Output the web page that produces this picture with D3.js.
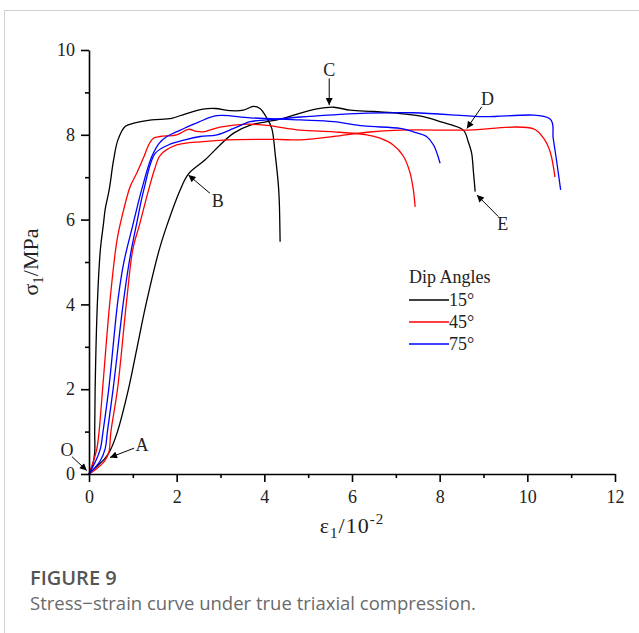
<!DOCTYPE html>
<html>
<head>
<meta charset="utf-8">
<script src="https://cdn.jsdelivr.net/npm/d3@7"></script>
<style>
  body { margin: 0; background: #fff; }
  svg { display: block; }
</style>
</head>
<body>
<div id="chart"></div>
<script>
// Stress-strain curves, [strain (10^-2), stress (MPa)]
const black1 = [[0,0],[0.08,0.2],[0.13,0.5],[0.13,1.0],[0.14,2.0],[0.19,4.0],[0.26,5.3],[0.33,5.9],[0.37,6.25],[0.46,6.7],[0.56,7.4],[0.66,7.88],[0.83,8.2],[1.05,8.28],[1.43,8.35],[1.89,8.39],[2.19,8.49],[2.57,8.6],[2.88,8.62],[3.22,8.57],[3.52,8.58],[3.75,8.67],[3.9,8.62],[4.06,8.39],[4.17,8.15],[4.25,7.52],[4.32,6.82],[4.34,6.46],[4.36,5.48]];
const black2 = [[0,0],[0.2,0.2],[0.35,0.35],[0.48,0.55],[0.65,1.0],[0.9,2.0],[1.1,3.0],[1.3,4.0],[1.6,5.28],[1.78,5.87],[2.08,6.7],[2.27,7.08],[2.65,7.41],[2.99,7.76],[3.3,8.04],[3.68,8.23],[4.06,8.31],[4.44,8.39],[4.82,8.51],[5.2,8.61],[5.58,8.65],[5.96,8.58],[6.49,8.55],[7.02,8.51],[7.63,8.43],[8.01,8.31],[8.54,8.11],[8.65,7.84],[8.73,7.56],[8.77,7.13],[8.81,6.66]];
const red1 = [[0,0],[0.1,0.3],[0.18,0.6],[0.23,1.0],[0.31,2.0],[0.48,4.1],[0.64,5.52],[0.79,6.23],[0.94,6.78],[1.09,7.1],[1.26,7.5],[1.36,7.76],[1.47,7.92],[1.62,7.96],[2.0,8.0],[2.27,8.13],[2.45,8.08],[2.61,8.07],[2.99,8.18],[3.6,8.25],[4.06,8.22],[4.82,8.11],[5.58,8.07],[6.34,8.0],[6.64,7.92],[6.94,7.76],[7.17,7.5],[7.32,7.12],[7.4,6.7],[7.44,6.3]];
const red2 = [[0,0],[0.2,0.15],[0.35,0.3],[0.45,0.5],[0.5,1.0],[0.65,2.0],[0.86,4.1],[1.0,5.3],[1.15,5.87],[1.36,6.7],[1.5,7.2],[1.63,7.52],[2.0,7.76],[2.61,7.84],[3.14,7.88],[4.28,7.89],[4.82,7.88],[5.58,7.96],[6.34,8.06],[7.1,8.11],[8.53,8.11],[10.14,8.14],[10.37,7.92],[10.52,7.6],[10.63,7.0]];
const blue1 = [[0,0],[0.15,0.3],[0.26,0.6],[0.32,1.0],[0.45,2.0],[0.66,4.1],[0.79,4.97],[1.0,5.87],[1.2,6.7],[1.43,7.48],[1.6,7.8],[1.76,7.95],[2.19,8.16],[2.5,8.3],[2.92,8.45],[3.68,8.4],[4.82,8.35],[5.58,8.31],[6.26,8.21],[7.1,8.15],[7.4,8.07],[7.7,7.96],[7.86,7.76],[8.01,7.33]];
const blue2 = [[0,0],[0.25,0.3],[0.37,0.6],[0.42,1.0],[0.55,2.0],[0.79,4.1],[0.95,5.2],[1.08,5.87],[1.25,6.7],[1.51,7.56],[1.81,7.76],[2.19,7.88],[2.54,7.96],[2.92,8.0],[3.3,8.15],[3.68,8.31],[4.06,8.35],[4.82,8.42],[5.58,8.47],[6.34,8.51],[7.4,8.52],[8.92,8.43],[10.52,8.37],[10.59,7.92],[10.67,7.37],[10.76,6.7]];

const legendLabels = ["15°", "45°", "75°"];
const legendColors = ["#000000", "#ff0000", "#0000ff"];
const xTicks = [0, 2, 4, 6, 8, 10, 12];
const yTicks = [0, 2, 4, 6, 8, 10];

// annotation labels: text position, arrow tail, arrow tip (data units)
const notes = [
  { t: "O", lx: -0.5, ly: 0.57, x1: -0.39, y1: 0.41, x2: -0.05, y2: 0.08 },
  { t: "A", lx: 1.21, ly: 0.68, x1: 1.03, y1: 0.61, x2: 0.48, y2: 0.39 },
  { t: "B", lx: 2.94, ly: 6.44, x1: 2.76, y1: 6.62, x2: 2.27, y2: 7.05 },
  { t: "C", lx: 5.48, ly: 9.53, x1: 5.48, y1: 9.33, x2: 5.48, y2: 8.70 },
  { t: "D", lx: 9.09, ly: 8.86, x1: 8.96, y1: 8.66, x2: 8.62, y2: 8.15 },
  { t: "E", lx: 9.44, ly: 5.91, x1: 9.34, y1: 6.07, x2: 8.85, y2: 6.58 }
];

const W = 639, H = 633;
const svg = d3.select("#chart").append("svg").attr("width", W).attr("height", H);

svg.append("rect").attr("width", W).attr("height", H).attr("fill", "#fff");
// card frame
svg.append("path").attr("d", "M4.5,633 V10.5 H639").attr("fill", "none").attr("stroke", "#cfcfcf");

const x = d3.scaleLinear().domain([0, 12]).range([89, 615]);
const y = d3.scaleLinear().domain([0, 10]).range([474, 50]);

const serif = '"Liberation Serif", "Times New Roman", serif';

svg.append("defs").append("marker")
  .attr("id", "arr").attr("viewBox", "0 0 10 10").attr("refX", 10).attr("refY", 5)
  .attr("markerWidth", 9).attr("markerHeight", 7).attr("markerUnits", "userSpaceOnUse")
  .attr("orient", "auto")
  .append("path").attr("d", "M0,0 L10,5 L0,10 z").attr("fill", "#000");

// curves
const line = d3.line().x(d => x(d[0])).y(d => y(d[1])).curve(d3.curveCatmullRom.alpha(0.5));
const series = [
  [black1, legendColors[0]], [black2, legendColors[0]],
  [red1, legendColors[1]], [red2, legendColors[1]],
  [blue1, legendColors[2]], [blue2, legendColors[2]]
];
series.forEach(([data, color]) => {
  svg.append("path").datum(data).attr("d", line)
    .attr("fill", "none").attr("stroke", color).attr("stroke-width", 1.3)
    .attr("stroke-linejoin", "round");
});

// axes
const gx = svg.append("g").attr("transform", `translate(0,${y(0)})`)
  .call(d3.axisBottom(x).tickValues(xTicks).tickSize(8).tickSizeOuter(0).tickPadding(8).tickFormat(d3.format("d")));
svg.append("g").attr("transform", `translate(0,${y(0)})`)
  .call(d3.axisBottom(x).tickValues([1, 3, 5, 7, 9, 11]).tickSize(4).tickSizeOuter(0).tickFormat(""))
  .select(".domain").remove();
const gy = svg.append("g").attr("transform", `translate(${x(0)},0)`)
  .call(d3.axisLeft(y).tickValues(yTicks).tickSize(8).tickSizeOuter(0).tickPadding(6).tickFormat(d3.format("d")));
svg.append("g").attr("transform", `translate(${x(0)},0)`)
  .call(d3.axisLeft(y).tickValues([1, 3, 5, 7, 9]).tickSize(4).tickSizeOuter(0).tickFormat(""))
  .select(".domain").remove();
svg.selectAll(".domain").attr("stroke", "#000").attr("stroke-width", 1.6);
svg.selectAll(".tick line").attr("stroke", "#000").attr("stroke-width", 1.6);
[gx, gy].forEach(g => {
  g.attr("font-family", serif).attr("font-size", 18);
  g.selectAll("text")
    .style("font-family", serif)
    .style("font-size", "18px")
    .style("fill", "#222");
});

// axis titles
const yt = svg.append("text").attr("transform", `translate(38,${(y(0) + y(10)) / 2}) rotate(-90)`)
  .attr("text-anchor", "middle").attr("font-family", serif).attr("font-size", 22).attr("fill", "#222");
yt.append("tspan").text("σ");
yt.append("tspan").attr("font-size", 15).attr("dy", 5).text("1");
yt.append("tspan").attr("dy", -5).text("/MPa");

const xt = svg.append("text").attr("x", (x(0) + x(12)) / 2).attr("y", 533)
  .attr("text-anchor", "middle").attr("font-family", serif).attr("font-size", 22).attr("fill", "#222")
  .attr("letter-spacing", 1);
xt.append("tspan").text("ε");
xt.append("tspan").attr("font-size", 15).attr("dy", 5).text("1");
xt.append("tspan").attr("dy", -5).text("/10");
xt.append("tspan").attr("font-size", 15).attr("dy", -9).text("-2");

// annotations
notes.forEach(n => {
  svg.append("line").attr("x1", x(n.x1)).attr("y1", y(n.y1)).attr("x2", x(n.x2)).attr("y2", y(n.y2))
    .attr("stroke", "#000").attr("stroke-width", 1).attr("marker-end", "url(#arr)");
  svg.append("text").attr("x", x(n.lx)).attr("y", y(n.ly)).attr("dy", "0.35em")
    .attr("text-anchor", "middle").attr("font-family", serif).attr("font-size", 18).attr("fill", "#222")
    .text(n.t);
});

// legend
const lg = svg.append("g").attr("transform", "translate(409,283)");
lg.append("text").attr("x", 0).attr("y", 0).attr("font-family", serif).attr("font-size", 18).attr("fill", "#222").text("Dip Angles");
legendLabels.forEach((lab, i) => {
  const yy = 17 + i * 22;
  lg.append("line").attr("x1", 0).attr("x2", 40).attr("y1", yy).attr("y2", yy)
    .attr("stroke", legendColors[i]).attr("stroke-width", 1.3);
  lg.append("text").attr("x", 40).attr("y", yy).attr("dy", "0.33em").attr("font-family", serif)
    .attr("font-size", 18).attr("fill", "#222").text(lab);
});

// caption
svg.append("text").attr("x", 30).attr("y", 585).attr("font-family", '"Open Sans", sans-serif')
  .attr("font-size", 20).attr("font-weight", 600).attr("fill", "#555").text("FIGURE 9");
svg.append("text").attr("x", 30).attr("y", 610).attr("font-family", '"Open Sans", sans-serif')
  .attr("font-size", 18.5).attr("fill", "#6a6a6a").text("Stress\u2212strain curve under true triaxial compression.");
</script>
</body>
</html>
